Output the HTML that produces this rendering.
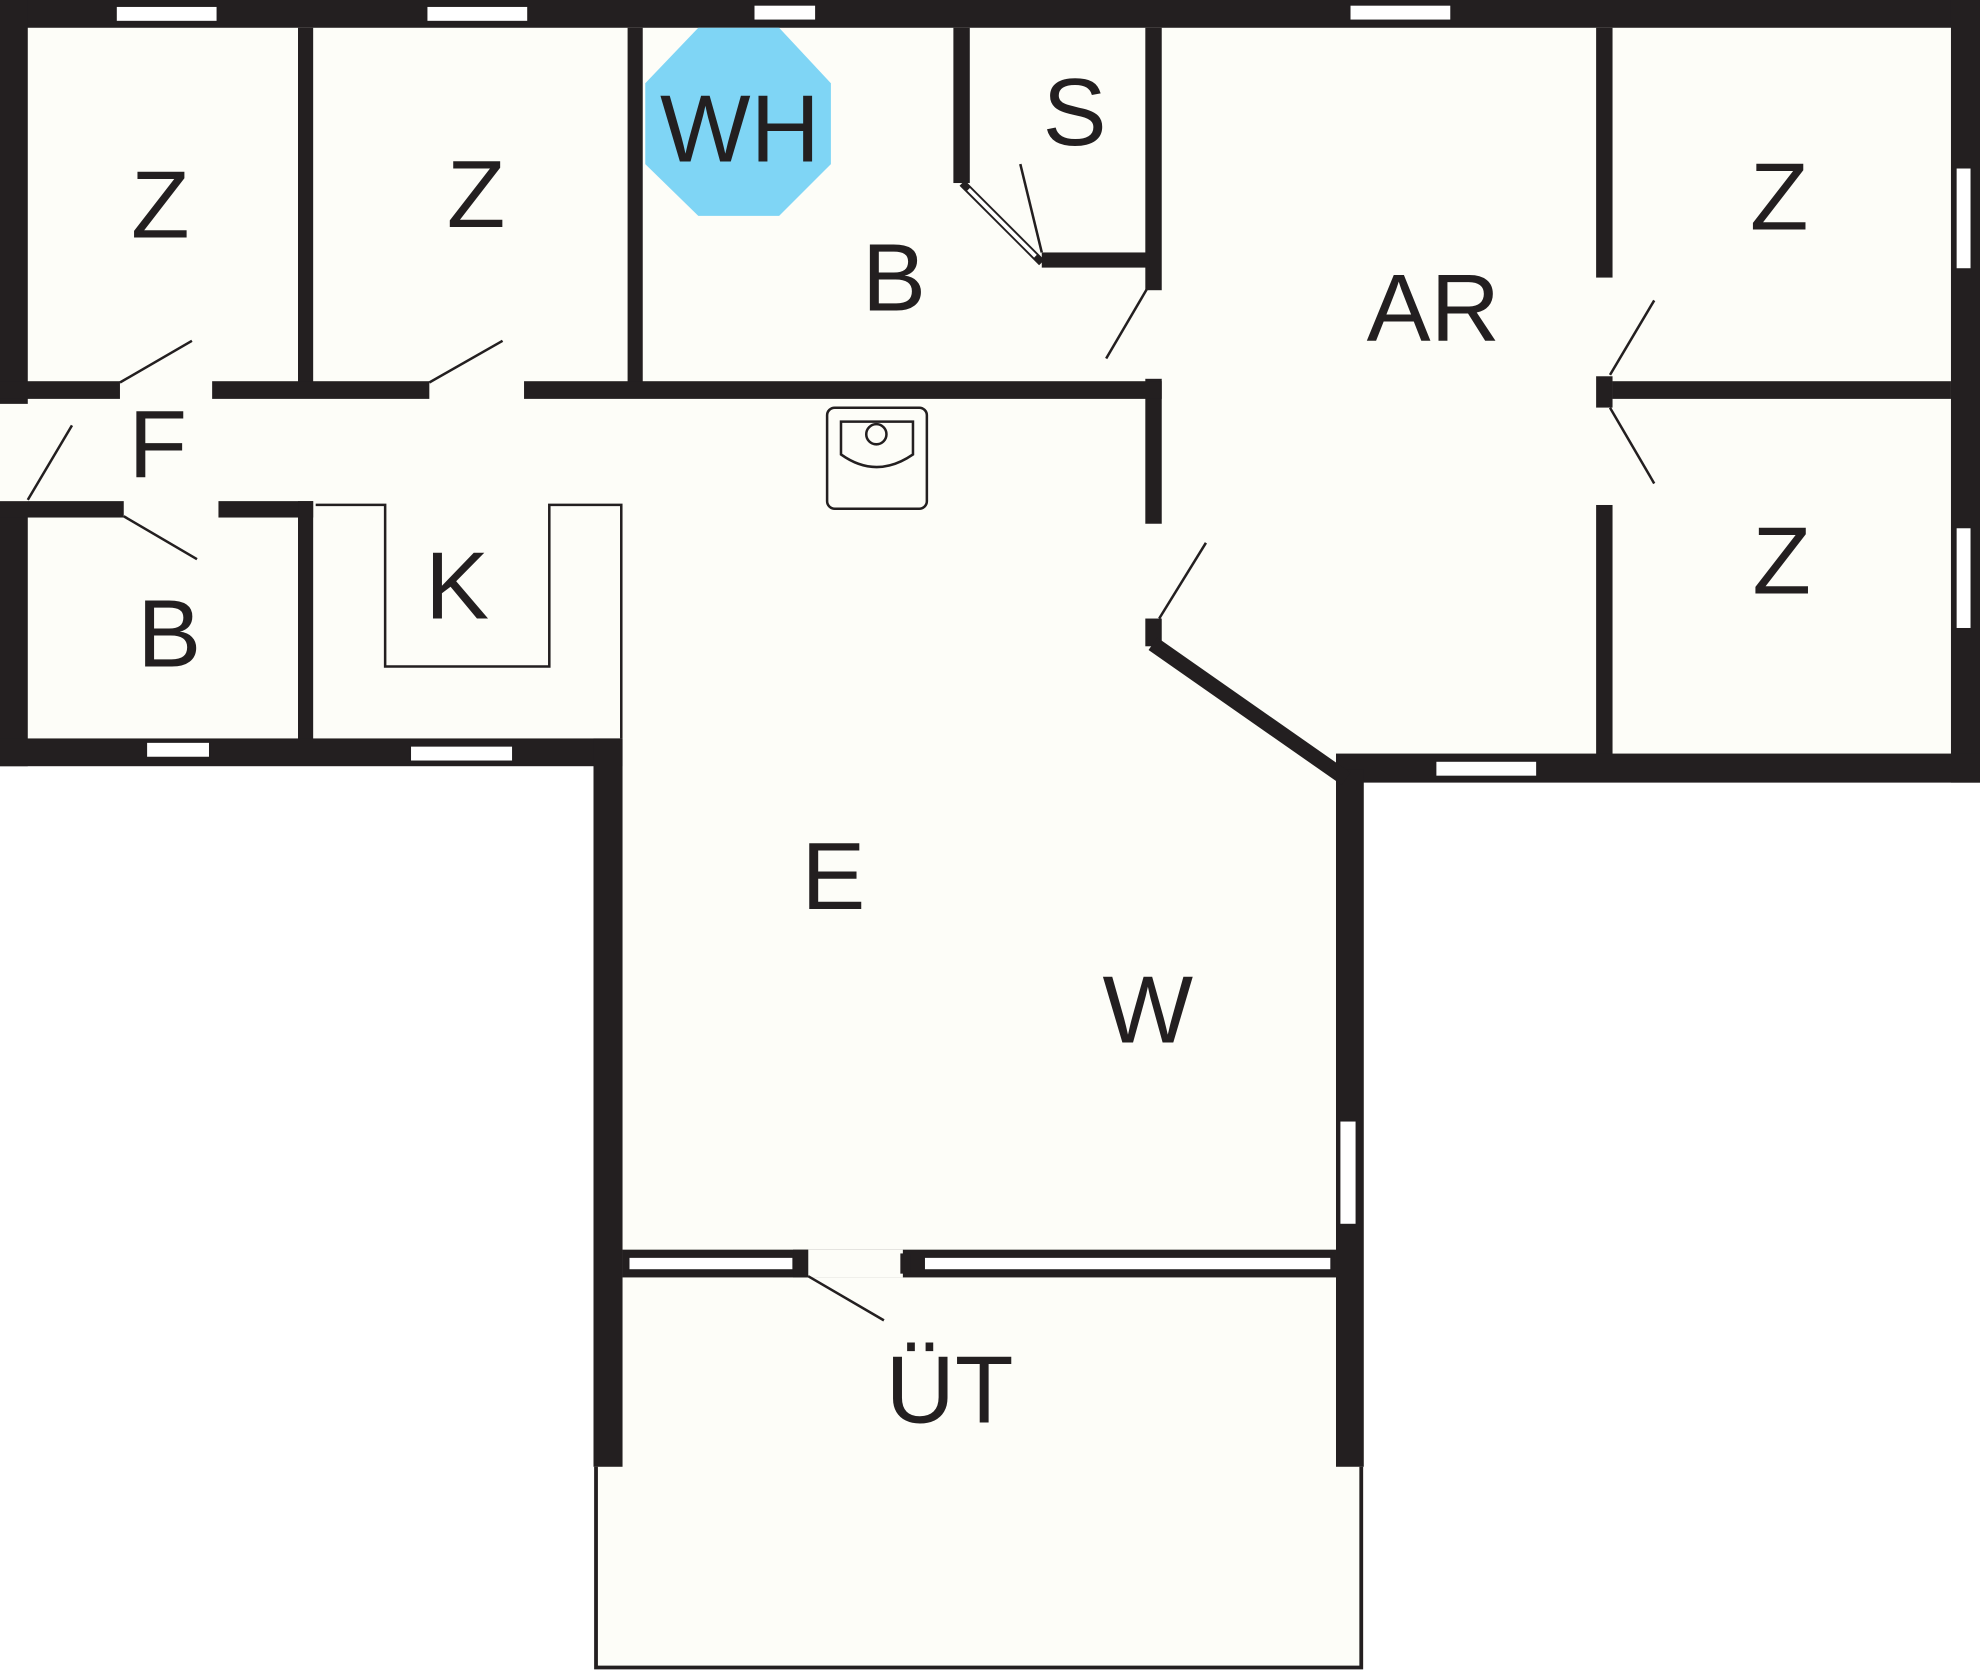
<!DOCTYPE html>
<html><head><meta charset="utf-8"><style>
html,body{margin:0;padding:0;background:#fff}
svg{display:block}
text{font-family:"Liberation Sans",sans-serif;fill:#231f20}
</style></head><body>
<svg width="1980" height="1670" viewBox="0 0 1568 1323" preserveAspectRatio="none" xmlns="http://www.w3.org/2000/svg">
<!-- floor fills -->
<g fill="#fdfdf8">
<rect x="0" y="0" width="1568" height="607"/>
<polygon points="913,510 1065,615 1568,615 1568,0 900,0"/>
<rect x="470" y="580" width="610" height="742"/>
</g>
<g fill="#231f20">
<!-- outer top -->
<rect x="0" y="0" width="1568" height="22"/>
<rect x="0" y="0" width="22" height="320"/>
<rect x="0" y="397" width="22" height="210"/>
<rect x="1545" y="0" width="23" height="620"/>
<!-- top-row verticals -->
<rect x="236" y="22" width="12" height="282"/>
<rect x="497" y="22" width="12" height="282"/>
<rect x="755" y="22" width="13" height="123"/>
<rect x="907" y="22" width="13" height="208"/>
<rect x="907" y="300" width="13" height="115"/>
<rect x="907" y="490" width="13" height="22"/>
<rect x="825" y="200" width="85" height="12"/>
<!-- horizontal wall y302 -->
<rect x="0" y="302" width="95" height="14"/>
<rect x="168" y="302" width="172" height="14"/>
<rect x="415" y="302" width="505" height="14"/>
<rect x="1277" y="302" width="268" height="14"/>
<!-- right verticals -->
<rect x="1264" y="22" width="13" height="198"/>
<rect x="1264" y="298" width="13" height="25"/>
<rect x="1264" y="400" width="13" height="200"/>
<rect x="1058" y="597" width="510" height="23"/>
<!-- left bottom -->
<rect x="0" y="397" width="98" height="13"/>
<rect x="173" y="397" width="75" height="13"/>
<rect x="236" y="397" width="12" height="190"/>
<rect x="0" y="585" width="493" height="22"/>
<!-- E walls -->
<rect x="470" y="585" width="23" height="577"/>
<rect x="1058" y="610" width="22" height="552"/>
<rect x="493" y="990" width="565" height="22"/>
</g>
<!-- diagonal wall -->
<line x1="913" y1="510" x2="1066" y2="617" stroke="#231f20" stroke-width="12"/>
<!-- windows -->
<g fill="#fff" stroke="#231f20" stroke-width="1">
<rect x="92" y="5" width="80" height="12"/>
<rect x="338" y="5" width="80" height="12"/>
<rect x="597" y="4" width="49" height="12"/>
<rect x="1069" y="4" width="80" height="12"/>
<rect x="116" y="588" width="50" height="12"/>
<rect x="325" y="591" width="81" height="12"/>
<rect x="1137" y="603" width="80" height="12"/>
<rect x="1549" y="133" width="12" height="80"/>
<rect x="1549" y="418" width="12" height="80"/>
<rect x="1061" y="888" width="13" height="82"/>
<rect x="498" y="996" width="130" height="10"/>
<rect x="732" y="996" width="322" height="10"/>
</g>
<rect x="640" y="990" width="75" height="22" fill="#fdfdf8"/>
<rect x="713" y="993" width="8" height="16" fill="#231f20"/>
<rect x="628" y="990" width="12" height="22" fill="#231f20"/>
<!-- door gaps -->
<g fill="#fdfdf8">
<rect x="0" y="320" width="22" height="77"/>
<rect x="1264" y="220" width="13" height="78"/>
<rect x="1264" y="323" width="13" height="77"/>
<rect x="907" y="230" width="13" height="70"/>
<rect x="907" y="415" width="13" height="75"/>
</g>
<!-- door swings -->
<g stroke="#231f20" stroke-width="2" fill="none">
<line x1="95" y1="303" x2="152" y2="270"/>
<line x1="340" y1="303" x2="398" y2="270"/>
<line x1="22" y1="396" x2="57" y2="337"/>
<line x1="98" y1="409" x2="156" y2="443"/>
<line x1="876" y1="284" x2="910" y2="226"/>
<line x1="918" y1="490" x2="955" y2="430"/>
<line x1="1275" y1="297" x2="1310" y2="238"/>
<line x1="1275" y1="323" x2="1310" y2="383"/>
<line x1="808" y1="130" x2="825" y2="200"/>
<line x1="640" y1="1011" x2="700" y2="1046"/>
<line x1="762" y1="145" x2="825" y2="208" stroke-width="6"/>
</g>
<line x1="767" y1="150" x2="820" y2="203" stroke="#fff" stroke-width="3"/>
<!-- K counter -->
<g stroke="#231f20" stroke-width="2" fill="none">
<polyline points="250,400 305,400 305,528 435,528 435,400 492,400 492,585"/>
<rect x="655" y="323" width="79" height="80" rx="6"/>
<path d="M666,334 H723 V360 Q694,380 666,360 Z"/>
<circle cx="694" cy="344" r="8"/>
</g>
<!-- ÜT outline -->
<polyline points="472,1162 472,1321 1078,1321 1078,1162" fill="none" stroke="#231f20" stroke-width="3"/>
<!-- WH -->
<polygon points="553,22 617,22 658,66 658,130 617,171 553,171 511,130 511,66" fill="#7fd5f5"/>
<g font-size="76" text-anchor="middle">
<text x="586" y="128">WH</text>
<text x="127" y="188">Z</text>
<text x="377" y="180">Z</text>
<text x="708" y="246">B</text>
<text x="851" y="115">S</text>
<text x="1135" y="270">AR</text>
<text x="1409" y="182">Z</text>
<text x="1411" y="470">Z</text>
<text x="125" y="378">F</text>
<text x="362" y="490">K</text>
<text x="134" y="528">B</text>
<text x="660" y="720">E</text>
<text x="909" y="826">W</text>
<text x="752" y="1127">ÜT</text>
</g>
</svg>
</body></html>
